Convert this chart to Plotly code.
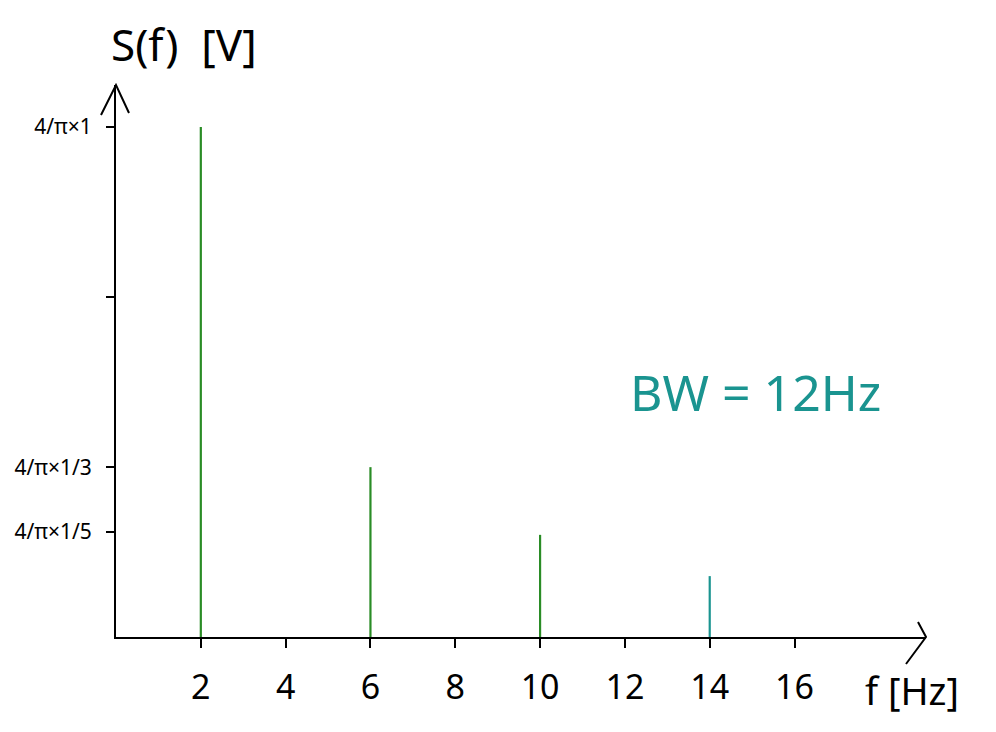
import plotly.graph_objects as go

# spectral lines
freqs = [2, 6, 10, 14]
amps = [1.273, 0.424, 0.255, 0.152]
line_colors = ["#2a8c26", "#2a8c26", "#2a8c26", "#1a9490"]

xtick_vals = [2, 4, 6, 8, 10, 12, 14, 16]
ytick_vals = [1.273, 0.849, 0.424, 0.262]
ytick_text = ["4/π×1", "", "4/π×1/3", "4/π×1/5"]

FONT = "Noto Sans"

fig = go.Figure()

for f, a, c in zip(freqs, amps, line_colors):
    fig.add_scatter(x=[f, f], y=[0, a], mode="lines",
                    line=dict(color=c, width=2.2), showlegend=False, hoverinfo="skip")

xmax = 19.1
ymax = 1.378

# page body has an 8px margin, so the plot box is pulled up/left by that much
fig.update_layout(
    width=996, height=732,
    margin=dict(l=108, r=78, t=77, b=103, autoexpand=False),
    plot_bgcolor="white", paper_bgcolor="white",
    font=dict(family=FONT, color="black"),
    xaxis=dict(range=[0, xmax], showgrid=False, zeroline=False,
               showline=True, linecolor="black", linewidth=2,
               tickvals=xtick_vals, ticks="outside", ticklen=9, tickwidth=2,
               tickcolor="black", tickfont=dict(size=34, family=FONT),
               ticklabelstandoff=10),
    yaxis=dict(range=[0, ymax], showgrid=False, zeroline=False,
               showline=True, linecolor="black", linewidth=2,
               tickvals=ytick_vals, ticktext=ytick_text, ticks="outside",
               ticklen=8, tickwidth=2, tickcolor="black",
               tickfont=dict(size=21, family=FONT), ticklabelstandoff=10),
)

# arrow heads on both axes
fig.add_shape(type="path", xref="paper", yref="paper", xsizemode="pixel", ysizemode="pixel",
              xanchor=0, yanchor=1, path="M -15,-30 L 0,0 L 13,-28",
              line=dict(color="black", width=2))
fig.add_shape(type="path", xref="paper", yref="paper", xsizemode="pixel", ysizemode="pixel",
              xanchor=1, yanchor=0, path="M -8,15 L 0,0 L -20,-27",
              line=dict(color="black", width=2))

fig.add_annotation(text="S(f)  [V]", xref="paper", yref="paper",
                   x=(184 - 116) / 810, y=(637 - 44) / 552, xanchor="center", yanchor="middle",
                   showarrow=False, font=dict(size=44, family=FONT))
fig.add_annotation(text="f [Hz]", xref="paper", yref="paper",
                   x=(912 - 116) / 810, y=-(690 - 637) / 552, xanchor="center", yanchor="middle",
                   showarrow=False, font=dict(size=38, family=FONT))
fig.add_annotation(text="BW = 12Hz", xref="paper", yref="paper",
                   x=(755 - 116) / 810, y=(637 - 392) / 552, xanchor="center", yanchor="middle",
                   showarrow=False, font=dict(size=50, family=FONT, color="#1a9490"))

fig.write_html("out.html")
